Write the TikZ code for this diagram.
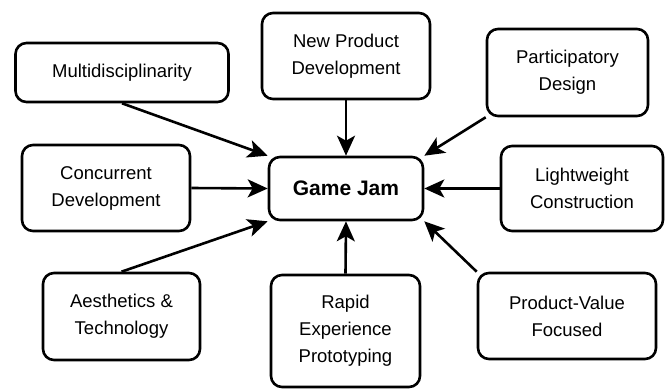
\documentclass[tikz,border=0pt]{standalone}
\usepackage{fontspec}
\setmainfont{Liberation Sans}
\usetikzlibrary{arrows.meta}
\begin{document}
\begin{tikzpicture}[x=1pt,y=-1pt,
  box/.style={draw=black,line width=2.6pt,rounded corners=11pt,align=center,inner sep=0pt,
    font=\fontsize{18.5pt}{27pt}\selectfont},
  conn/.style={line width=2.6pt,-{Stealth[length=20pt,width=18pt,inset=5pt]}}]
\useasboundingbox (0,0) rectangle (670,389);
\node[box,minimum width=213pt,minimum height=59pt] (multi) at (122,72.5) {Multidisciplinarity};
\node[box,minimum width=168pt,minimum height=86pt] (npd) at (346,56) {New Product\\Development};
\node[box,minimum width=161pt,minimum height=87pt] (part) at (567.5,72.5) {Participatory\\Design};
\node[box,minimum width=168pt,minimum height=86pt] (conc) at (106,188) {Concurrent\\Development};
\node[box,minimum width=154pt,minimum height=63pt,font=\fontsize{21pt}{27pt}\selectfont\bfseries] (gj) at (346,188.5) {Game Jam};
\node[box,minimum width=162pt,minimum height=85pt] (light) at (582,188.5) {Lightweight\\Construction};
\node[box,minimum width=157pt,minimum height=87pt] (aest) at (121.5,316.5) {Aesthetics \&\\Technology};
\node[box,minimum width=149pt,minimum height=112pt] (rapid) at (345.5,331) {Rapid\\Experience\\Prototyping};
\node[box,minimum width=178pt,minimum height=86pt] (pv) at (567,316) {Product-Value\\Focused};
\draw[conn] (multi.south) -- (gj.north west);
\draw[conn] (npd.south) -- (gj.north);
\draw[conn] (part.south west) -- (gj.north east);
\draw[conn] (conc.east) -- (gj.west);
\draw[conn] (light.west) -- (gj.east);
\draw[conn] (aest.north) -- (gj.south west);
\draw[conn] (rapid.north) -- (gj.south);
\draw[conn] (pv.north west) -- (gj.south east);
\end{tikzpicture}
\end{document}
